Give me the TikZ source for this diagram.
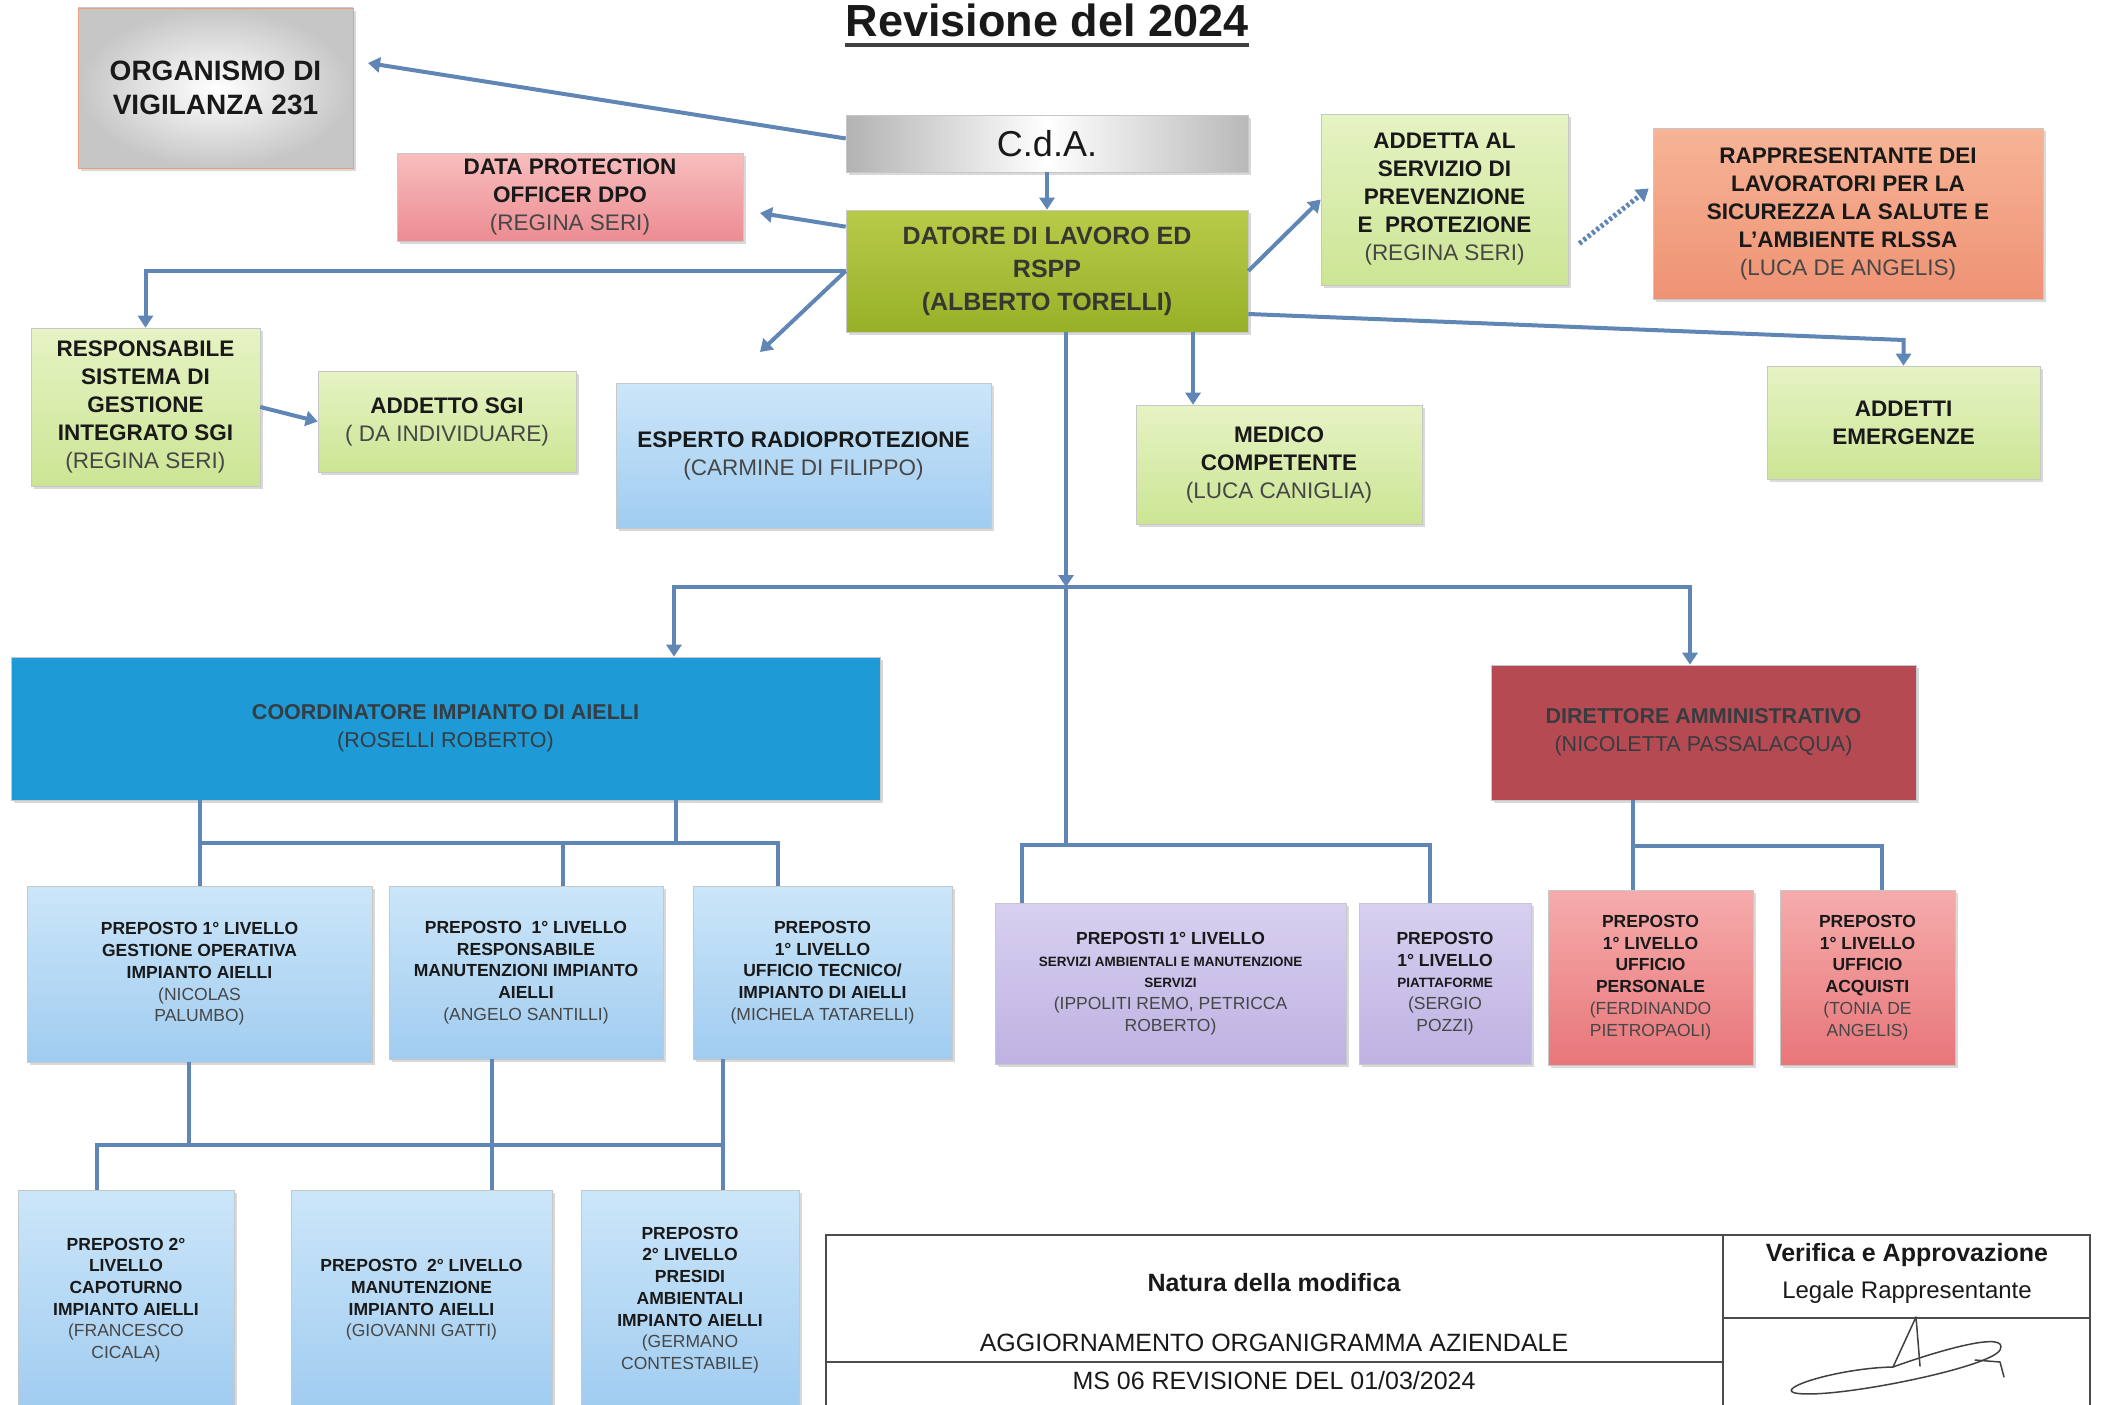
\documentclass[tikz,border=0pt]{standalone}
\usepackage{fontspec}
\setmainfont{Liberation Sans}
\usetikzlibrary{arrows.meta, shadows, positioning}
\newcommand{\nomep}[1]{{\mdseries\color{namegray}#1}}
\newcommand{\minore}{\fontsize{13.5}{17}\selectfont}

\begin{document}
\begin{tikzpicture}[x=1pt, y=-1pt, line join=miter,
    %Style
    org box/.style={draw=black!22, line width=0.6pt, align=center, inner sep=2pt, text=textcolor,
      drop shadow={shadow xshift=3pt, shadow yshift=-3pt, opacity=0.3}},
    big text/.style={font=\fontsize{22.5}{28}\selectfont\bfseries},
    small text/.style={font=\fontsize{17.5}{21.7}\selectfont\bfseries},
    green box/.style={org box, big text, top color=greentop, bottom color=greenbottom},
    sky box/.style={org box, small text, top color=skytop, bottom color=skybottom},
    lav box/.style={org box, small text, top color=lavtop, bottom color=lavbottom},
    rosy box/.style={org box, small text, top color=rosytop, bottom color=rosybottom},
    link line/.style={draw=linkcolor, line width=4pt},
    link arrow/.style={link line, -{Triangle[length=12pt,width=15pt]}},
    table line/.style={draw=black!70, line width=2.5pt},
    table text/.style={font=\fontsize{25}{30}\selectfont, text=textcolor},
    signature/.style={draw=black!75, line width=1.5pt, line cap=round}]
    %Colors
    \definecolor{linkcolor}{RGB}{96,134,182}
    \definecolor{textcolor}{RGB}{25,25,25}
    \definecolor{namegray}{RGB}{70,70,70}
    \definecolor{odvedge}{RGB}{228,160,130}
    \definecolor{greentop}{RGB}{230,243,196}
    \definecolor{greenbottom}{RGB}{204,229,148}
    \definecolor{olivetop}{RGB}{184,203,72}
    \definecolor{olivebottom}{RGB}{152,176,40}
    \definecolor{datoretext}{RGB}{55,55,50}
    \definecolor{pinktop}{RGB}{248,190,190}
    \definecolor{pinkbottom}{RGB}{236,140,146}
    \definecolor{salmontop}{RGB}{247,180,150}
    \definecolor{salmonbottom}{RGB}{239,146,116}
    \definecolor{skytop}{RGB}{204,230,249}
    \definecolor{skybottom}{RGB}{160,204,240}
    \definecolor{coordblue}{RGB}{30,154,214}
    \definecolor{coordtext}{RGB}{55,60,65}
    \definecolor{dirred}{RGB}{182,74,82}
    \definecolor{lavtop}{RGB}{216,208,240}
    \definecolor{lavbottom}{RGB}{190,178,226}
    \definecolor{rosytop}{RGB}{246,172,172}
    \definecolor{rosybottom}{RGB}{232,118,122}

    \useasboundingbox (0,0) rectangle (2102,1405);

    %Title
    \node[anchor=base, inner sep=0pt, font=\fontsize{45}{52}\selectfont\bfseries, text=textcolor] (titolo) at (1047,37) {Revisione del 2024};
    \draw[black!75, line width=4pt] ([yshift=-8pt]titolo.base west) -- ([yshift=-8pt]titolo.base east);

    %Vertice
    \node[org box, minimum width=275pt, minimum height=160pt, inner color=white, outer color=gray!45, draw=odvedge,
      font=\fontsize{28}{34}\selectfont\bfseries] (odv) at (215.5,88) {ORGANISMO DI\\VIGILANZA 231};
    \node[org box, minimum width=402pt, minimum height=57pt, left color=gray!60, right color=gray!55, middle color=white,
      font=\fontsize{36}{40}\selectfont] (cda) at (1047,143.5) {C.d.A.};
    \node[org box, big text, minimum width=346pt, minimum height=88pt, top color=pinktop, bottom color=pinkbottom]
      (dpo) at (570,197) {DATA PROTECTION\\OFFICER DPO\\\nomep{(REGINA SERI)}};
    \node[org box, minimum width=402pt, minimum height=122pt, top color=olivetop, bottom color=olivebottom, text=datoretext,
      font=\fontsize{25}{33}\selectfont\bfseries] (datore) at (1047,271) {DATORE DI LAVORO ED\\RSPP\\(ALBERTO TORELLI)};
    \node[green box, minimum width=247pt, minimum height=171pt] (aspp) at (1444.5,199.5)
      {ADDETTA AL\\SERVIZIO DI\\PREVENZIONE\\E\ \ PROTEZIONE\\\nomep{(REGINA SERI)}};
    \node[org box, big text, minimum width=390pt, minimum height=171pt, top color=salmontop, bottom color=salmonbottom]
      (rls) at (1848,213.5) {RAPPRESENTANTE DEI\\LAVORATORI PER LA\\SICUREZZA LA SALUTE E\\L’AMBIENTE RLSSA\\\nomep{(LUCA DE ANGELIS)}};

    %Staff
    \node[green box, minimum width=229pt, minimum height=158pt] (rsgi) at (145.5,407)
      {RESPONSABILE\\SISTEMA DI\\GESTIONE\\INTEGRATO SGI\\\nomep{(REGINA SERI)}};
    \node[green box, minimum width=258pt, minimum height=101pt] (asgi) at (447,421.5) {ADDETTO SGI\\\nomep{( DA INDIVIDUARE)}};
    \node[org box, big text, minimum width=375pt, minimum height=145pt, top color=skytop, bottom color=skybottom]
      (esperto) at (803.5,455.5) {ESPERTO RADIOPROTEZIONE\\\nomep{(CARMINE DI FILIPPO)}};
    \node[green box, minimum width=286pt, minimum height=119pt] (medico) at (1279,464.5) {MEDICO\\COMPETENTE\\\nomep{(LUCA CANIGLIA)}};
    \node[green box, minimum width=273pt, minimum height=113pt] (emerg) at (1903.5,422.5) {ADDETTI\\EMERGENZE};

    %Line
    \node[org box, minimum width=869pt, minimum height=143pt, fill=coordblue, text=coordtext,
      font=\fontsize{21.5}{28}\selectfont\bfseries] (coord) at (445.5,728.5) {COORDINATORE IMPIANTO DI AIELLI\\{\mdseries (ROSELLI ROBERTO)}};
    \node[org box, minimum width=425pt, minimum height=135pt, fill=dirred, text=coordtext,
      font=\fontsize{21.5}{28}\selectfont\bfseries] (diramm) at (1703.5,732.5) {DIRETTORE AMMINISTRATIVO\\{\mdseries (NICOLETTA PASSALACQUA)}};

    %Preposti 1 livello
    \node[sky box, minimum width=345pt, minimum height=176pt] (p1a) at (199.5,974)
      {PREPOSTO 1° LIVELLO\\GESTIONE OPERATIVA\\IMPIANTO AIELLI\\\nomep{(NICOLAS}\\\nomep{PALUMBO)}};
    \node[sky box, minimum width=274pt, minimum height=173pt] (p1b) at (526,972.5)
      {PREPOSTO\ \ 1° LIVELLO\\RESPONSABILE\\MANUTENZIONI IMPIANTO\\AIELLI\\\nomep{(ANGELO SANTILLI)}};
    \node[sky box, minimum width=259pt, minimum height=173pt] (p1c) at (822.5,972.5)
      {PREPOSTO\\1° LIVELLO\\UFFICIO TECNICO/\\IMPIANTO DI AIELLI\\\nomep{(MICHELA TATARELLI)}};
    \node[lav box, minimum width=351pt, minimum height=161pt] (p1d) at (1170.5,983.5)
      {PREPOSTI 1° LIVELLO\\{\minore SERVIZI AMBIENTALI E MANUTENZIONE}\\{\minore SERVIZI}\\\nomep{(IPPOLITI REMO, PETRICCA}\\\nomep{ROBERTO)}};
    \node[lav box, minimum width=172pt, minimum height=161pt] (p1e) at (1445,983.5)
      {PREPOSTO\\1° LIVELLO\\{\minore PIATTAFORME}\\\nomep{(SERGIO}\\\nomep{POZZI)}};
    \node[rosy box, minimum width=205pt, minimum height=175pt] (p1f) at (1650.5,977.5)
      {PREPOSTO\\1° LIVELLO\\UFFICIO\\PERSONALE\\\nomep{(FERDINANDO}\\\nomep{PIETROPAOLI)}};
    \node[rosy box, minimum width=175pt, minimum height=175pt] (p1g) at (1867.5,977.5)
      {PREPOSTO\\1° LIVELLO\\UFFICIO\\ACQUISTI\\\nomep{(TONIA DE}\\\nomep{ANGELIS)}};

    %Preposti 2 livello
    \node[sky box, minimum width=216pt, minimum height=220pt] (p2a) at (126,1300)
      {PREPOSTO 2°\\LIVELLO\\CAPOTURNO\\IMPIANTO AIELLI\\\nomep{(FRANCESCO}\\\nomep{CICALA)}};
    \node[sky box, minimum width=261pt, minimum height=220pt] (p2b) at (421.5,1300)
      {PREPOSTO\ \ 2° LIVELLO\\MANUTENZIONE\\IMPIANTO AIELLI\\\nomep{(GIOVANNI GATTI)}};
    \node[sky box, minimum width=218pt, minimum height=220pt] (p2c) at (690,1300)
      {PREPOSTO\\2° LIVELLO\\PRESIDI\\AMBIENTALI\\IMPIANTO AIELLI\\\nomep{(GERMANO}\\\nomep{CONTESTABILE)}};

    %Connectors
    \coordinate (odvin) at (368,63);
    \coordinate (dpoin) at (760,213);
    \coordinate (espin) at (760,352);
    \coordinate (hub) at (1066,587);
    \coordinate (hub2) at (1066,845);
    \coordinate (cbus) at (200,843);
    \coordinate (dbus) at (1633,846);
    \coordinate (qbus) at (189,1145);

    \draw[link arrow] ([yshift=5pt]cda.west) -- (odvin);
    \draw[link arrow] (cda) -- (datore);
    \draw[link arrow] ([yshift=-17pt]datore.north west) -- (dpoin);
    \draw[link arrow] (datore.west) -| (rsgi.north);
    \draw[link arrow] (datore.west) -- (espin);
    \draw[link arrow] (rsgi.east) -- (asgi.west);
    \draw[link arrow] (datore.east) -- (aspp.west);
    \draw[link arrow, line width=5pt, dash pattern=on 3pt off 2.5pt] ([xshift=11pt,yshift=-44pt]aspp.east) -- ([xshift=-4pt,yshift=25pt]rls.west);
    \draw[link arrow] ([yshift=-43pt]datore.east) -- (emerg.north |- 0,340) -- (emerg.north);
    \draw[link arrow] (datore.south -| 1193,0) -- (medico.north -| 1193,0);

    \draw[link arrow] (datore.south -| hub) -- (hub);
    \draw[link line] (hub) -- (hub2);
    \draw[link arrow] (hub) -| (coord.north -| 674,0);
    \draw[link arrow] (hub) -| (diramm.north -| 1690,0);
    \draw[link line] (p1d.north -| 1022,0) |- (hub2) -| (p1e.north -| 1430,0);

    \draw[link line] (coord.south -| cbus) -- (p1a.north -| cbus);
    \draw[link line] (coord.south -| 676,0) |- (cbus);
    \draw[link line] (cbus) -| (p1b.north -| 563,0);
    \draw[link line] (cbus) -| (p1c.north -| 778,0);

    \draw[link line] (diramm.south -| dbus) -- (p1f.north -| dbus);
    \draw[link line] (dbus) -| (p1g.north -| 1882,0);

    \draw[link line] (p1a.south -| qbus) -- (qbus);
    \draw[link line] (p2a.north -| 97,0) |- (qbus) -- (qbus -| 723,0);
    \draw[link line] (p1b.south -| 492,0) -- (p2b.north -| 492,0);
    \draw[link line] (p1c.south -| 723,0) -- (p2c.north -| 723,0);

    %Table
    \draw[table line] (826,1410) -- (826,1235) -- (2090,1235) -- (2090,1410);
    \draw[table line] (1723,1235) -- (1723,1410);
    \draw[table line] (826,1362) -- (1723,1362);
    \draw[table line] (1723,1318) -- (2090,1318);
    \node[table text, font=\fontsize{25}{30}\selectfont\bfseries] (natura) at (1274,1283) {Natura della modifica};
    \node[table text] (aggiorn) at (1274,1343) {AGGIORNAMENTO ORGANIGRAMMA AZIENDALE};
    \node[table text] (revis) at (1274,1381) {MS 06 REVISIONE DEL 01/03/2024};
    \node[table text, font=\fontsize{25}{30}\selectfont\bfseries] (verifica) at (1907,1255) {Verifica e Approvazione};
    \node[table text, font=\fontsize{24}{30}\selectfont] (legale) at (1907,1292) {Legale Rappresentante};

    %Firma
    \draw[signature] (1916,1317) -- (1893,1367) (1916,1317) -- (1920,1366);
    \draw[signature] (1893,1367) .. controls (1940,1350) and (2010,1330) .. (2000,1350)
      .. controls (1990,1368) and (1830,1400) .. (1795,1393) .. controls (1775,1388) and (1840,1368) .. (1893,1367);
    \draw[signature] (1975,1360) -- (2000,1362) -- (2004,1377);
\end{tikzpicture}
\end{document}
